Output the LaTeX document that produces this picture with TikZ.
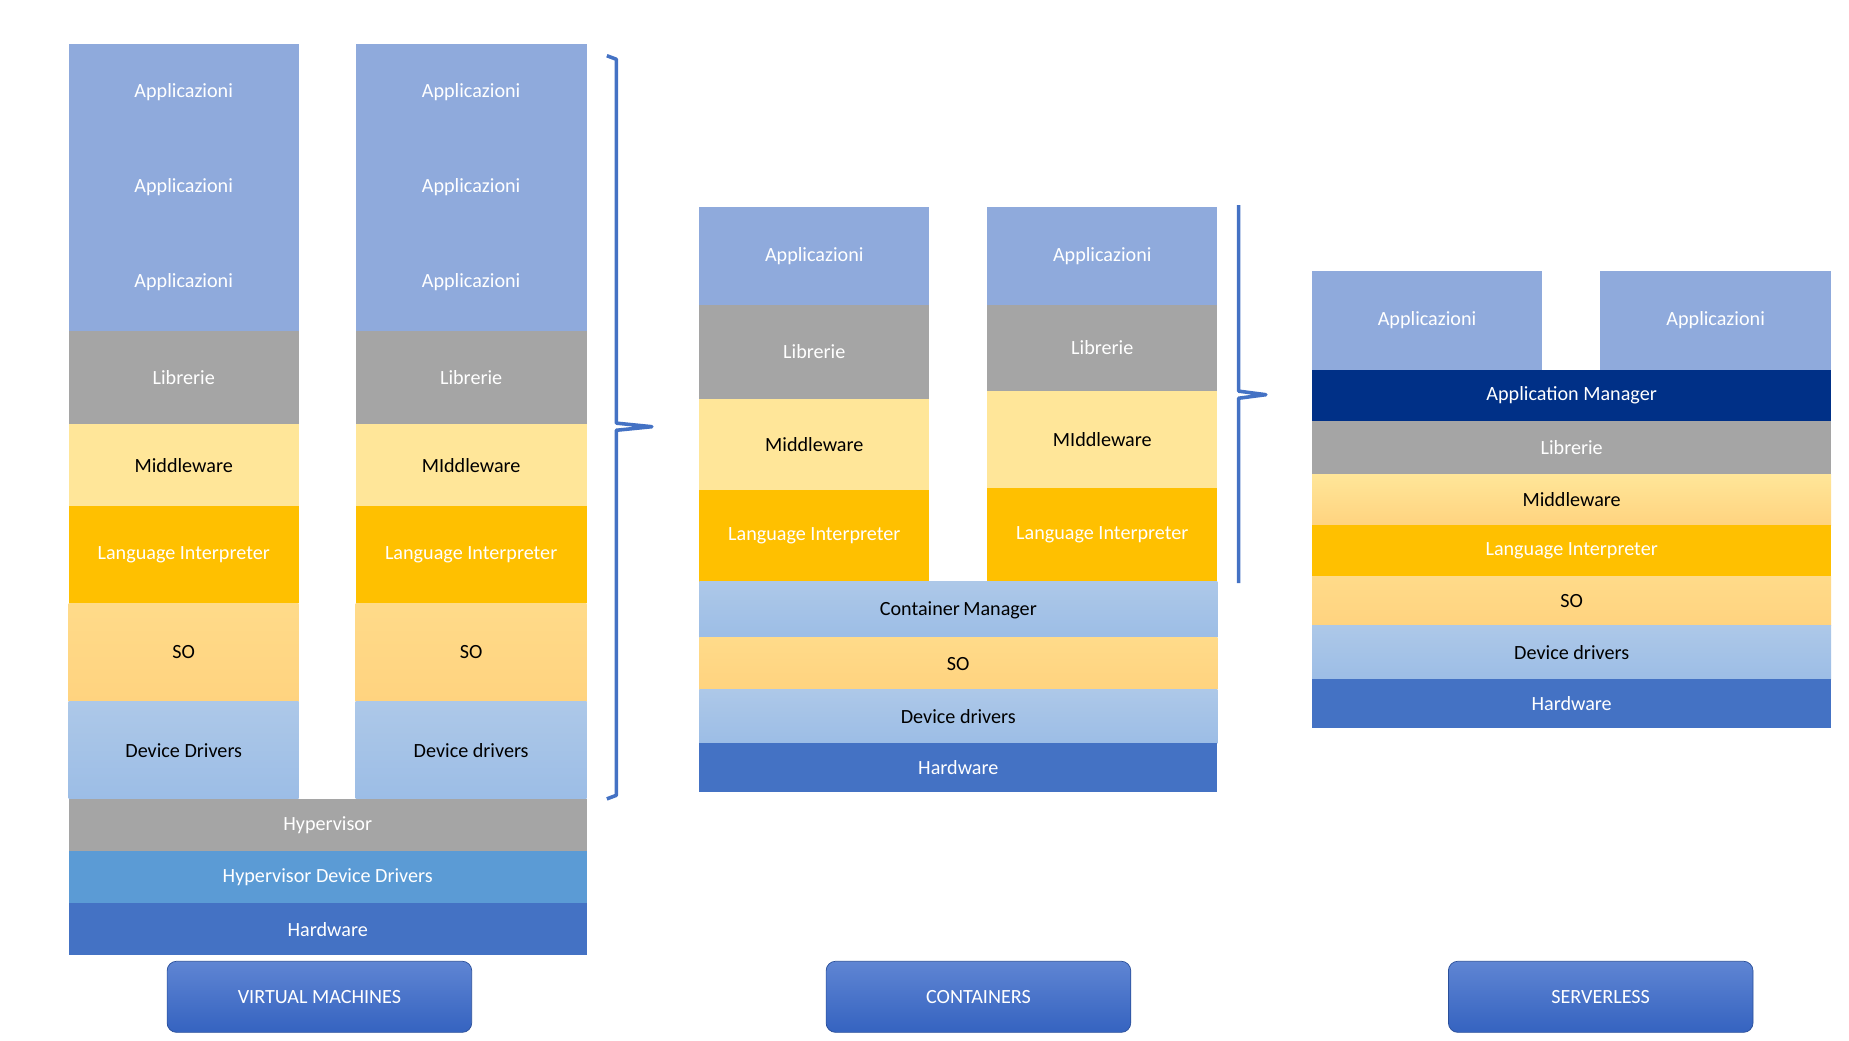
\documentclass[tikz,border=0pt]{standalone}
\usepackage{fontspec}
\setmainfont{Carlito}
\begin{document}
\begin{tikzpicture}[x=1pt,y=-1pt,
 L/.style={draw=none,inner sep=0,outer sep=0,font=\fontsize{17}{20}\selectfont,anchor=north west},
 app/.style={L,fill=apcol,text=white},
 lib/.style={L,fill=libcol,text=white},
 mid/.style={L,fill=midcol,text=black},
 midg/.style={L,top color=midcol,bottom color=socol,text=black},
 lang/.style={L,fill=langcol,text=white},
 so/.style={L,top color=socol!60!midcol,bottom color=socol,text=black},
 dd/.style={L,top color=ddtop,bottom color=ddbot,text=black},
 hyp/.style={L,fill=libcol,text=white},
 hdd/.style={L,fill=hddcol,text=white},
 hw/.style={L,fill=hwcol,text=white},
 am/.style={L,fill=amcol,text=white},
 btn/.style={rounded corners=8pt,top color=btop,bottom color=bbot,draw=bbot!80!black,line width=0.6pt,text=white,font=\fontsize{17}{20}\selectfont,minimum width=257pt,minimum height=60pt,inner sep=0},
 brace/.style={draw=hwcol,line width=3pt,line join=round}]
\definecolor{apcol}{HTML}{8FAADC}
\definecolor{libcol}{HTML}{A5A5A5}
\definecolor{midcol}{HTML}{FFE699}
\definecolor{langcol}{HTML}{FFC000}
\definecolor{socol}{HTML}{FFD37F}
\definecolor{ddtop}{HTML}{ADC8E8}
\definecolor{ddbot}{HTML}{9CBDE6}
\definecolor{hddcol}{HTML}{5B9BD5}
\definecolor{hwcol}{HTML}{4472C4}
\definecolor{amcol}{HTML}{003087}
\definecolor{btop}{HTML}{5F85D3}
\definecolor{bbot}{HTML}{3563C0}
\newcommand\lay[7]{\node[#6,minimum width={(#3-#1)*1pt},minimum height={(#4-#2)*1pt}] (#7) at (#1,#2) {#5};}
\useasboundingbox (0,0) rectangle (1560,878);
% VM
\foreach \xa/\xb/\n/\m/\d in {58/252/a/Middleware/Device Drivers,300/495/b/MIddleware/Device drivers}{
 \lay{\xa}{37}{\xb}{279}{}{app}{vmapp\n}
 \node[text=white,font=\fontsize{17}{20}\selectfont] (vmt1\n) at ({(\xa+\xb)/2},78) {Applicazioni};
 \node[text=white,font=\fontsize{17}{20}\selectfont] (vmt2\n) at ({(\xa+\xb)/2},158) {Applicazioni};
 \node[text=white,font=\fontsize{17}{20}\selectfont] (vmt3\n) at ({(\xa+\xb)/2},238) {Applicazioni};
 \lay{\xa}{279}{\xb}{358}{Librerie}{lib}{vmlib\n}
 \lay{\xa}{358}{\xb}{427}{\m}{mid}{vmmid\n}
 \lay{\xa}{427}{\xb}{509}{Language Interpreter}{lang}{vmli\n}
 \lay{\xa}{509}{\xb}{592}{SO}{so}{vmso\n}
 \lay{\xa}{592}{\xb}{674}{\d}{dd}{vmdd\n}
}
\lay{58}{674}{495}{718}{Hypervisor}{hyp}{hyp}
\lay{58}{718}{495}{762}{Hypervisor Device Drivers}{hdd}{hdd}
\lay{58}{762}{495}{806}{Hardware}{hw}{vmhw}
\draw[brace] (512,47) -- (520,50) -- (520,357) -- (550,360) -- (520,363) -- (520,671) -- (512,674);
\node[btn] (b1) at (269.5,841) {VIRTUAL MACHINES};
% Containers
\lay{590}{175}{784}{257}{Applicazioni}{app}{ca1}
\lay{590}{257}{784}{337}{Librerie}{lib}{cl1}
\lay{590}{337}{784}{413}{Middleware}{mid}{cm1}
\lay{590}{413}{784}{491}{Language Interpreter}{lang}{cli1}
\lay{833}{175}{1027}{257}{Applicazioni}{app}{ca2}
\lay{833}{257}{1027}{330}{Librerie}{lib}{cl2}
\lay{833}{330}{1027}{412}{MIddleware}{mid}{cm2}
\lay{833}{412}{1027}{490}{Language Interpreter}{lang}{cli2}
\lay{590}{491}{1027}{538}{Container\,Manager}{dd}{cmgr}
\lay{590}{538}{1027}{582}{SO}{so}{cso}
\lay{590}{582}{1027}{627}{Device drivers}{dd}{cdd}
\lay{590}{627}{1027}{668}{Hardware}{hw}{chw}
\draw[brace] (1045,173) -- (1045,330) -- (1068,333) -- (1045,336) -- (1045,492);
\node[btn] (b2) at (825.5,841) {CONTAINERS};
% Serverless
\lay{1107}{229}{1301}{312}{Applicazioni}{app}{sa1}
\lay{1350}{229}{1545}{312}{Applicazioni}{app}{sa2}
\lay{1107}{312}{1545}{355}{Application Manager}{am}{sam}
\lay{1107}{355}{1545}{400}{Librerie}{lib}{sl}
\lay{1107}{400}{1545}{443}{Middleware}{midg}{sm}
\lay{1107}{443}{1545}{486}{Language Interpreter}{lang}{sli}
\lay{1107}{486}{1545}{528}{SO}{so}{sso}
\lay{1107}{528}{1545}{573}{Device drivers}{dd}{sdd}
\lay{1107}{573}{1545}{614}{Hardware}{hw}{shw}
\node[btn] (b3) at (1350.5,841) {SERVERLESS};
\end{tikzpicture}
\end{document}
